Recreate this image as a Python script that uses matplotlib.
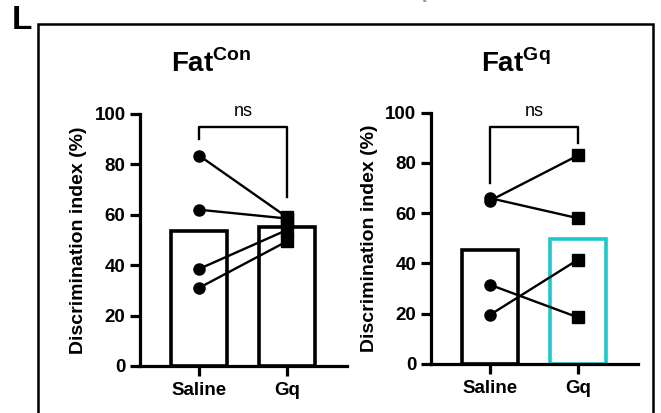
import matplotlib.pyplot as plt
import matplotlib.patches as patches

plt.rcParams['font.family'] = ['Liberation Sans', 'DejaVu Sans']
plt.rcParams['font.weight'] = 'bold'
plt.rcParams['mathtext.fontset'] = 'custom'
plt.rcParams['mathtext.bf'] = 'Liberation Sans:bold'
plt.rcParams['mathtext.rm'] = 'Liberation Sans:bold'

groups = ['Saline', 'Gq']
con_saline = [83.5, 62, 38.5, 31]
con_gq = [59, 58.5, 54, 49.5]
gq_saline = [66, 65, 31.5, 19.5]
gq_gq = [58, 83, 18.5, 41.5]
con_means = [53.5, 55.3]
gq_means = [45.3, 49.6]

CYAN = '#1ec8c8'
LW = 2.3


def panel(ax, means, sal, gq, edge2, bracket):
    ax.bar([0, 1], means, width=0.63, facecolor='white',
           edgecolor=['black', edge2], linewidth=LW + 0.3, zorder=1)
    for a, b in zip(sal, gq):
        ax.plot([0, 1], [a, b], color='black', lw=1.7, zorder=2)
    ax.plot([0] * len(sal), sal, 'o', color='black', ms=8, zorder=3)
    ax.plot([1] * len(gq), gq, 's', color='black', ms=8, zorder=3)
    l0, top, l1 = bracket
    ax.plot([0, 0, 1, 1], [l0, top, top, l1], color='black', lw=1.7,
             clip_on=False)
    ax.text(0.5, top + 2.5, 'ns', ha='center', va='bottom', fontsize=13,
            fontweight='normal')
    ax.set_xlim(-0.67, 1.68)
    ax.set_ylim(0, 100)
    ax.set_yticks([0, 20, 40, 60, 80, 100])
    ax.set_xticks([0, 1])
    ax.set_xticklabels(groups)
    ax.spines['top'].set_visible(False)
    ax.spines['right'].set_visible(False)
    for s in ['left', 'bottom']:
        ax.spines[s].set_linewidth(LW)
    ax.tick_params(width=LW, length=7.5, labelsize=13.5, pad=3)
    ax.tick_params(axis='x', pad=4)
    ax.set_ylabel('Discrimination index (%)', fontsize=14,
                  fontweight='bold', labelpad=5)


fig = plt.figure(figsize=(6.61, 4.13), dpi=100)
ax1 = fig.add_axes([0.212, 0.114, 0.313, 0.610])
ax2 = fig.add_axes([0.652, 0.119, 0.313, 0.608])

panel(ax1, con_means, con_saline, con_gq, 'black', (90, 95, 67))
panel(ax2, gq_means, gq_saline, gq_gq, CYAN, (72, 94.5, 88))

fig.text(0.319, 0.826, r'Fat$^{\mathbf{Con}}$', ha='center', va='baseline',
         fontsize=20, fontweight='bold')
fig.text(0.781, 0.826, r'Fat$^{\mathbf{Gq}}$', ha='center', va='baseline',
         fontsize=20, fontweight='bold')

fig.text(0.018, 0.95, 'L', fontsize=24, fontweight='bold', va='center')

# clipped header line above the panel
fig.text(0.25, 1.02, 'Stimulator', color='#999999', fontsize=16, va='center')
fig.text(0.505, 1.02, 'Fat', color='#8fd8e0', fontsize=16, va='center')
fig.text(0.60, 1.02, 'Gq neurons', color='#999999', fontsize=16, va='center')

box = patches.Rectangle((0.0575, -0.05), 0.93, 0.992, transform=fig.transFigure,
                        fill=False, edgecolor='black', linewidth=1.8)
fig.add_artist(box)

fig.savefig('out.png', dpi=100)
